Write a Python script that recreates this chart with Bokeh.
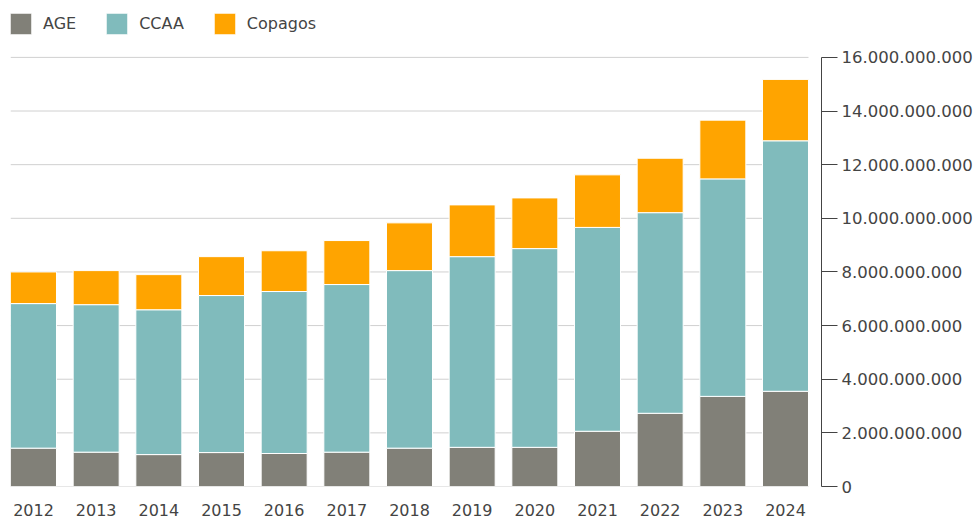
from bokeh.plotting import figure
from bokeh.models import (ColumnDataSource, Range1d, FixedTicker, CustomJSTickFormatter,
                          Legend, LegendItem)
from bokeh.embed import file_html
from bokeh.resources import INLINE

years = ["2012", "2013", "2014", "2015", "2016", "2017", "2018", "2019", "2020",
         "2021", "2022", "2023", "2024"]
age = [1.43e9, 1.28e9, 1.19e9, 1.265e9, 1.23e9, 1.28e9, 1.43e9, 1.46e9, 1.46e9,
       2.06e9, 2.73e9, 3.36e9, 3.55e9]
ccaa = [5.39e9, 5.50e9, 5.40e9, 5.855e9, 6.04e9, 6.25e9, 6.62e9, 7.11e9, 7.41e9,
        7.60e9, 7.48e9, 8.11e9, 9.34e9]
copagos = [1.18e9, 1.27e9, 1.31e9, 1.45e9, 1.52e9, 1.64e9, 1.78e9, 1.93e9, 1.89e9,
           1.96e9, 2.03e9, 2.19e9, 2.29e9]
y_ticks = [0, 2e9, 4e9, 6e9, 8e9, 10e9, 12e9, 14e9, 16e9]

series_names = ["AGE", "CCAA", "Copagos"]
colors = ["#818078", "#80bbbc", "#ffa400"]
FONT = "DejaVu Sans"
TEXT = "#444444"
BAR_W = 0.734

idx = list(range(len(years)))
source = ColumnDataSource(dict(x=idx, AGE=age, CCAA=ccaa, Copagos=copagos))

# frame spans the full height above the plot so the legend sits inside it
FRAME_H = 487
AXIS_H = 430
y_top = max(y_ticks) * FRAME_H / AXIS_H

x_lo = -BAR_W / 2
x_hi = len(years) - 1 + BAR_W / 2
p = figure(width=975, height=518, output_backend="svg", toolbar_location=None,
           x_range=Range1d(x_lo, x_hi + 0.2075), y_range=Range1d(0, y_top),
           y_axis_location="right",
           min_border_left=10, min_border_right=154, min_border_top=0, min_border_bottom=31)
p.outline_line_color = None
p.xgrid.visible = False
p.ygrid.visible = False

# horizontal gridlines spanning only the bar area
p.segment(x0=[x_lo] * len(y_ticks), x1=[x_hi] * len(y_ticks), y0=y_ticks, y1=y_ticks,
          line_color="#d0d0d0", line_width=1)

renderers = p.vbar_stack(series_names, x="x", width=BAR_W, source=source,
                         color=colors, line_color="white", line_width=1)

# y axis on the right
ya = p.yaxis[0]
ya.ticker = FixedTicker(ticks=y_ticks)
ya.bounds = (0, max(y_ticks))
ya.formatter = CustomJSTickFormatter(code="""
return tick.toFixed(0).replace(/\\B(?=(\\d{3})+(?!\\d))/g, '.');
""")
ya.axis_line_color = "#444444"
ya.major_tick_line_color = "#444444"
ya.major_tick_out = 16
ya.major_tick_in = 0
ya.minor_tick_out = 0
ya.minor_tick_in = 0
ya.major_label_standoff = 4
ya.major_label_text_font = FONT
ya.major_label_text_font_size = "16.5px"
ya.major_label_text_color = TEXT

# x axis
xa = p.xaxis[0]
xa.ticker = FixedTicker(ticks=idx)
xa.major_label_overrides = {i: y for i, y in zip(idx, years)}
xa.axis_line_color = None
xa.major_tick_line_color = None
xa.minor_tick_line_color = None
xa.major_tick_out = 0
xa.major_label_standoff = 17
xa.major_label_text_font = FONT
xa.major_label_text_font_size = "16px"
xa.major_label_text_color = TEXT

legend = Legend(items=[LegendItem(label=n, renderers=[r]) for n, r in zip(series_names, renderers)],
                orientation="horizontal", location=(-3, 449),
                glyph_width=27, glyph_height=27, label_standoff=9, spacing=27,
                padding=0, margin=0, border_line_color=None, background_fill_alpha=0,
                label_text_font=FONT, label_text_font_size="16px", label_text_color=TEXT,
                label_height=27)
p.add_layout(legend)

open("out.html", "w").write(file_html(p, INLINE))
